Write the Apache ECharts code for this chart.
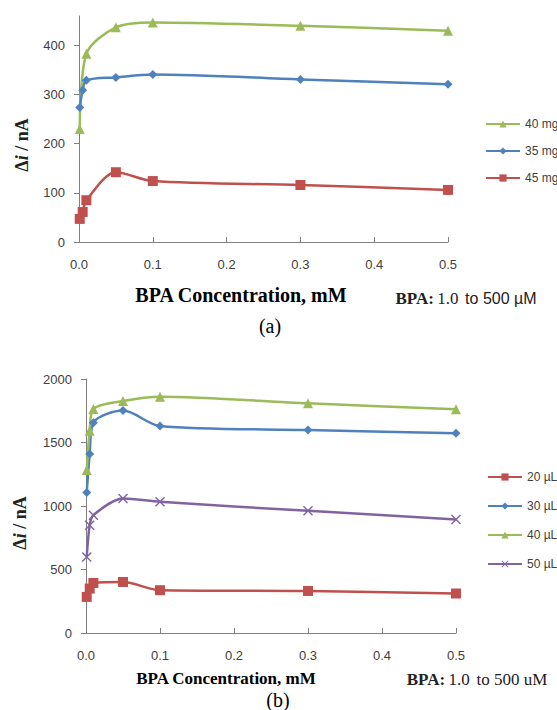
<!DOCTYPE html>
<html>
<head>
<meta charset="utf-8">
<script src="https://cdn.jsdelivr.net/npm/echarts@6/dist/echarts.min.js"></script>
<style>
  html, body { margin: 0; padding: 0; background: #fff; }
  #chart { width: 557px; height: 710px; }
</style>
</head>
<body>
<div id="chart"></div>
<script>
'use strict'
// (a) carbon amount, x in mM
var concA = [0.001, 0.005, 0.01, 0.05, 0.1, 0.3, 0.5];
var concA40 = [0.001, 0.01, 0.05, 0.1, 0.3, 0.5];
var mg40 = [230, 383, 437, 447, 440, 430];
var mg35 = [274, 309, 329, 335, 341, 331, 321];
var mg45 = [47, 61, 85, 142, 124, 116, 106];

// (b) volume
var concB = [0.001, 0.005, 0.01, 0.05, 0.1, 0.3, 0.5];
var ul20 = [284, 350, 394, 402, 337, 331, 311];
var ul30 = [1107, 1409, 1656, 1751, 1630, 1598, 1572];
var ul40 = [1283, 1593, 1764, 1827, 1861, 1809, 1762];
var ul50 = [599, 849, 928, 1060, 1033, 962, 894];

var yTicksA = [0, 100, 200, 300, 400];
var yTicksB = [0, 500, 1000, 1500, 2000];

function pairs(xs, ys) {
    return ys.map(function (v, i) { return [xs[i], v]; });
}

var xMark = 'path://M0,1L1,0L5,4L9,0L10,1L6,5L10,9L9,10L5,6L1,10L0,9L4,5Z';
var sans = 'Liberation Sans';
var serif = 'Liberation Serif';
var axisColor = '#808080';
var labelColor = '#404040';

function xAxisCfg(gi) {
    return {
        gridIndex: gi,
        type: 'value',
        min: 0,
        max: 0.5,
        interval: 0.1,
        splitLine: { show: false },
        axisLine: { lineStyle: { color: axisColor, width: 1 } },
        axisTick: { inside: true, length: 5, lineStyle: { color: axisColor } },
        axisLabel: {
            margin: 16,
            fontFamily: sans,
            fontSize: 13,
            color: labelColor,
            formatter: function (v) { return v.toFixed(1); }
        }
    };
}

function yAxisCfg(gi, max, ticks) {
    return {
        gridIndex: gi,
        type: 'value',
        min: 0,
        max: max,
        splitLine: { show: false },
        axisLine: { show: true, lineStyle: { color: axisColor, width: 1 } },
        axisTick: { show: true, length: 5, customValues: ticks, lineStyle: { color: axisColor } },
        axisLabel: {
            margin: 14,
            fontFamily: sans,
            fontSize: 13,
            color: labelColor,
            customValues: ticks,
            formatter: function (v) { return String(v); }
        }
    };
}

function line(name, gi, data, color, symbol, size) {
    return {
        name: name,
        type: 'line',
        xAxisIndex: gi,
        yAxisIndex: gi,
        data: data,
        smooth: 0.3,
        symbol: symbol,
        symbolSize: size,
        showSymbol: true,
        itemStyle: { color: color },
        lineStyle: { width: 2.5, color: color }
    };
}

var chart = echarts.init(document.getElementById('chart'), null, { renderer: 'svg' });

var option = {
    backgroundColor: '#fff',
    animation: false,
    grid: [
        { left: 79, top: 16, width: 369, height: 226 },
        { left: 86, top: 379, width: 370, height: 254 }
    ],
    xAxis: [xAxisCfg(0), xAxisCfg(1)],
    yAxis: [yAxisCfg(0, 460, yTicksA), yAxisCfg(1, 2000, yTicksB)],
    legend: [
        {
            orient: 'vertical',
            left: 480,
            top: 113,
            itemWidth: 34,
            itemHeight: 9,
            itemGap: 15,
            textStyle: { fontFamily: sans, fontSize: 12, color: labelColor },
            data: ['40 mg', '35 mg', '45 mg']
        },
        {
            orient: 'vertical',
            left: 482,
            top: 466,
            itemWidth: 34,
            itemHeight: 9,
            itemGap: 17,
            textStyle: { fontFamily: sans, fontSize: 12, color: labelColor },
            data: ['20 µL', '30 µL', '40 µL', '50 µL']
        }
    ],
    graphic: [
        {
            type: 'text', x: 241, y: 295,
            style: { text: 'BPA Concentration, mM', font: 'bold 20px "Liberation Serif"', fill: '#000', align: 'center', verticalAlign: 'middle' }
        },
        {
            type: 'text', x: 466, y: 298,
            style: {
                text: '{b|BPA:} {s|1.0}  {t|to 500 µM}',
                align: 'center', verticalAlign: 'middle',
                rich: {
                    b: { fontFamily: serif, fontWeight: 'bold', fontSize: 17, fill: '#222' },
                    s: { fontFamily: serif, fontSize: 17, fill: '#222' },
                    t: { fontFamily: sans, fontSize: 16, fill: '#222' }
                }
            }
        },
        {
            type: 'text', x: 270, y: 326,
            style: { text: '(a)', font: '20px "Liberation Serif"', fill: '#000', align: 'center', verticalAlign: 'middle' }
        },
        {
            type: 'text', x: 22, y: 145, rotation: Math.PI / 2,
            style: {
                text: '{b|Δ}{i|i}{b| / nA}',
                align: 'center', verticalAlign: 'middle',
                rich: {
                    b: { fontFamily: serif, fontWeight: 'bold', fontSize: 18, fill: '#222' },
                    i: { fontFamily: serif, fontWeight: 'bold', fontStyle: 'italic', fontSize: 18, fill: '#222' }
                }
            }
        },
        {
            type: 'text', x: 226, y: 678,
            style: { text: 'BPA Concentration, mM', font: 'bold 17px "Liberation Serif"', fill: '#000', align: 'center', verticalAlign: 'middle' }
        },
        {
            type: 'text', x: 477, y: 679,
            style: {
                text: '{b|BPA:} {s|1.0}  {t|to 500 uM}',
                align: 'center', verticalAlign: 'middle',
                rich: {
                    b: { fontFamily: serif, fontWeight: 'bold', fontSize: 17, fill: '#222' },
                    s: { fontFamily: serif, fontSize: 17, fill: '#222' },
                    t: { fontFamily: serif, fontSize: 17, fill: '#222' }
                }
            }
        },
        {
            type: 'text', x: 278, y: 700,
            style: { text: '(b)', font: '20px "Liberation Serif"', fill: '#000', align: 'center', verticalAlign: 'middle' }
        },
        {
            type: 'text', x: 20, y: 523, rotation: Math.PI / 2,
            style: {
                text: '{b|Δ}{i|i}{b| / nA}',
                align: 'center', verticalAlign: 'middle',
                rich: {
                    b: { fontFamily: serif, fontWeight: 'bold', fontSize: 18, fill: '#222' },
                    i: { fontFamily: serif, fontWeight: 'bold', fontStyle: 'italic', fontSize: 18, fill: '#222' }
                }
            }
        }
    ],
    series: [
        line('40 mg', 0, pairs(concA40, mg40), '#9BBB59', 'triangle', 10),
        line('35 mg', 0, pairs(concA, mg35), '#4F81BD', 'diamond', 9),
        line('45 mg', 0, pairs(concA, mg45), '#C0504D', 'rect', 10),
        line('20 µL', 1, pairs(concB, ul20), '#C0504D', 'rect', 10),
        line('30 µL', 1, pairs(concB, ul30), '#4F81BD', 'diamond', 9),
        line('40 µL', 1, pairs(concB, ul40), '#9BBB59', 'triangle', 10),
        line('50 µL', 1, pairs(concB, ul50), '#8064A2', xMark, 10)
    ]
};

chart.setOption(option);
</script>
</body>
</html>
